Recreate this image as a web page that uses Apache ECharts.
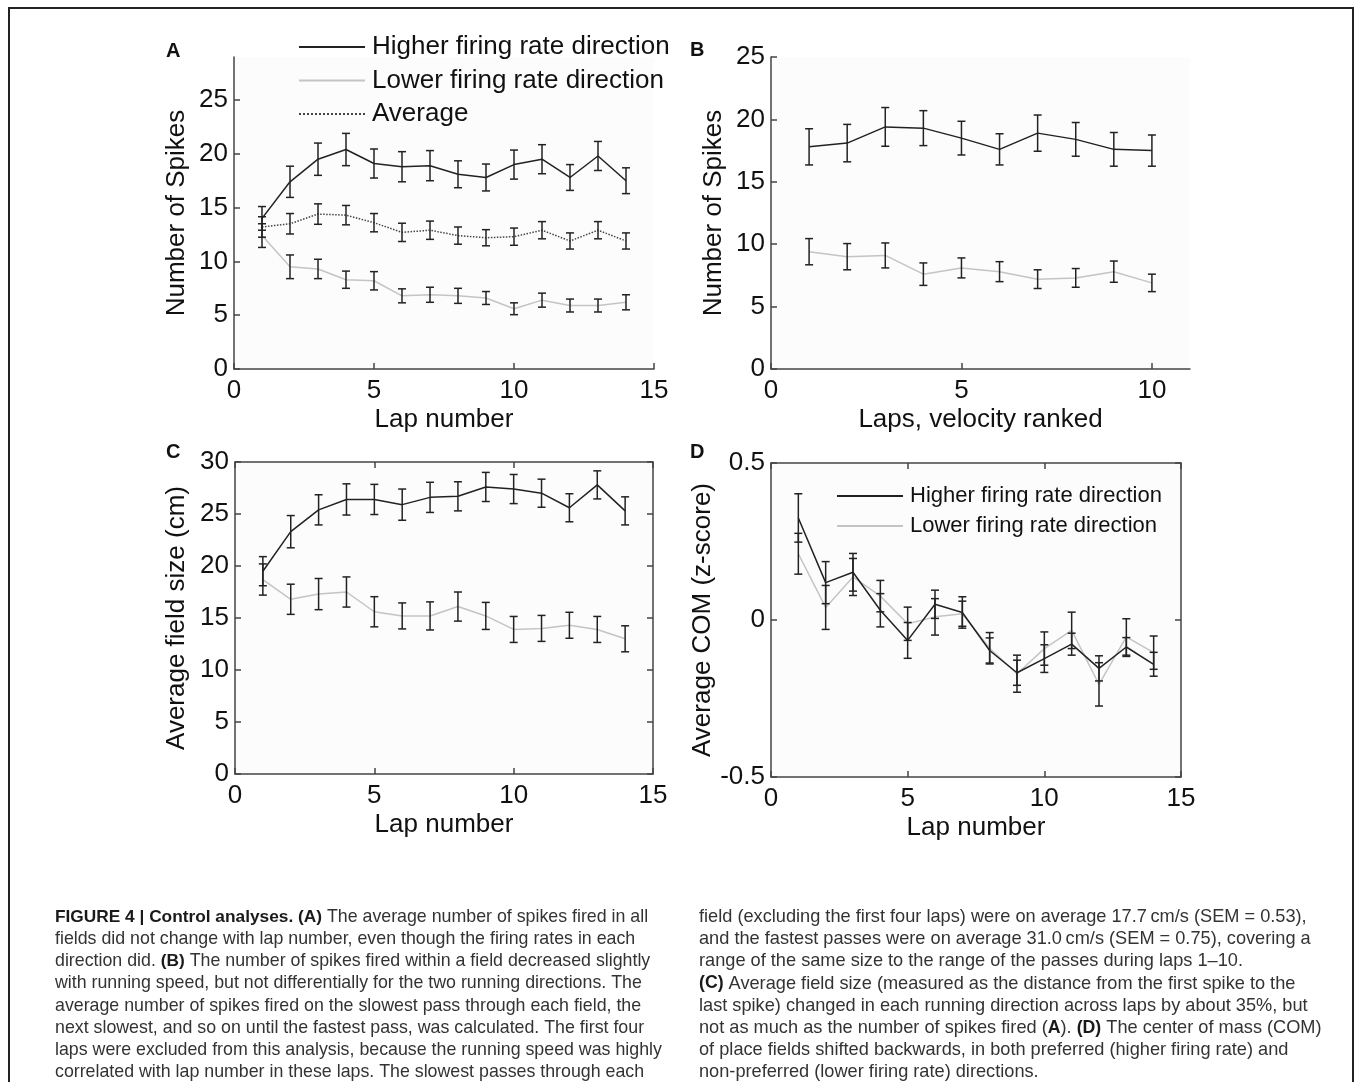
<!DOCTYPE html>
<html>
<head>
<meta charset="utf-8">
<title>Figure 4 - Control analyses</title>
<script src="https://cdn.jsdelivr.net/npm/echarts@6/dist/echarts.min.js"></script>
<style>
  html, body { margin: 0; padding: 0; background: #fff; }
  #main { width: 1356px; height: 1082px; }
</style>
</head>
<body>
<div id="main"></div>
<script>
// 圈数
const laps14 = [1, 2, 3, 4, 5, 6, 7, 8, 9, 10, 11, 12, 13, 14]
const laps10 = [1, 2, 3, 4, 5, 6, 7, 8, 9, 10]

// A: 每圈放电数
const spikesHigh = [14.0, 17.4, 19.5, 20.4, 19.1, 18.8, 18.9, 18.1, 17.8, 19.0, 19.5, 17.8, 19.8, 17.5]
const spikesHighErr = [1.1, 1.45, 1.5, 1.5, 1.35, 1.4, 1.4, 1.25, 1.25, 1.35, 1.35, 1.2, 1.35, 1.2]
const spikesLow = [12.4, 9.5, 9.3, 8.3, 8.2, 6.8, 6.9, 6.8, 6.6, 5.6, 6.4, 5.9, 5.9, 6.2]
const spikesLowErr = [1.1, 1.1, 0.9, 0.8, 0.85, 0.65, 0.7, 0.7, 0.6, 0.55, 0.65, 0.6, 0.6, 0.7]
const spikesAvg = [13.2, 13.5, 14.4, 14.3, 13.6, 12.7, 12.9, 12.4, 12.2, 12.3, 12.9, 11.9, 12.9, 11.9]
const spikesAvgErr = [0.95, 0.95, 0.95, 0.9, 0.85, 0.85, 0.85, 0.8, 0.75, 0.8, 0.8, 0.75, 0.8, 0.75]

// B: 按速度排序
const velHigh = [17.8, 18.1, 19.4, 19.3, 18.5, 17.6, 18.9, 18.4, 17.6, 17.5]
const velHighErr = [1.45, 1.5, 1.55, 1.4, 1.35, 1.25, 1.45, 1.35, 1.35, 1.25]
const velLow = [9.4, 9.0, 9.1, 7.6, 8.1, 7.8, 7.2, 7.3, 7.8, 6.9]
const velLowErr = [1.05, 1.05, 1.0, 0.9, 0.8, 0.8, 0.75, 0.75, 0.85, 0.7]

// C: 位置野大小
const sizeHigh = [19.5, 23.3, 25.4, 26.4, 26.4, 25.9, 26.6, 26.7, 27.6, 27.4, 27.0, 25.6, 27.8, 25.3]
const sizeHighErr = [1.4, 1.55, 1.45, 1.5, 1.45, 1.5, 1.45, 1.4, 1.4, 1.4, 1.35, 1.35, 1.35, 1.35]
const sizeLow = [18.7, 16.8, 17.3, 17.5, 15.6, 15.2, 15.2, 16.1, 15.2, 13.9, 14.0, 14.3, 13.9, 13.0]
const sizeLowErr = [1.5, 1.45, 1.5, 1.45, 1.45, 1.25, 1.35, 1.4, 1.3, 1.25, 1.25, 1.25, 1.25, 1.25]

// D: 质心
const comHigh = [0.325, 0.119, 0.152, 0.031, -0.065, 0.05, 0.024, -0.097, -0.168, -0.123, -0.077, -0.154, -0.086, -0.141]
const comHighErr = [0.077, 0.067, 0.06, 0.053, 0.057, 0.045, 0.05, 0.04, 0.04, 0.044, 0.035, 0.04, 0.03, 0.038]
const comLow = [0.211, 0.04, 0.137, 0.076, -0.012, 0.01, 0.02, -0.09, -0.171, -0.091, -0.033, -0.205, -0.054, -0.104]
const comLowErr = [0.065, 0.07, 0.059, 0.05, 0.053, 0.058, 0.04, 0.05, 0.059, 0.053, 0.058, 0.069, 0.058, 0.053]

const NAME_HIGH = 'Higher firing rate direction'
const NAME_LOW = 'Lower firing rate direction'
const NAME_AVG = 'Average'

// 图注文字
const captionLeft = [
  '{b|FIGURE 4 | Control analyses. (A)} The average number of spikes fired in all',
  'fields did not change with lap number, even though the firing rates in each',
  'direction did. {b|(B)} The number of spikes fired within a field decreased slightly',
  'with running speed, but not differentially for the two running directions. The',
  'average number of spikes fired on the slowest pass through each field, the',
  'next slowest, and so on until the fastest pass, was calculated. The first four',
  'laps were excluded from this analysis, because the running speed was highly',
  'correlated with lap number in these laps. The slowest passes through each'
]
const captionRight = [
  'field (excluding the first four laps) were on average 17.7\u2009cm/s (SEM = 0.53),',
  'and the fastest passes were on average 31.0\u2009cm/s (SEM = 0.75), covering a',
  'range of the same size to the range of the passes during laps 1\u201310.',
  '{b|(C)} Average field size (measured as the distance from the first spike to the',
  'last spike) changed in each running direction across laps by about 35%, but',
  'not as much as the number of spikes fired ({b|A}). {b|(D)} The center of mass (COM)',
  'of place fields shifted backwards, in both preferred (higher firing rate) and',
  'non-preferred (lower firing rate) directions.'
]

const FONT = '"Liberation Sans", Arial, Helvetica, sans-serif'
const AXIS_COLOR = '#444'
const TEXT_COLOR = '#111'

function pairs(xs, ys) {
  return xs.map((x, i) => [x, ys[i]])
}

function errRows(xs, ys, es) {
  return xs.map((x, i) => [x, ys[i] - es[i], ys[i] + es[i]])
}

// 误差线
function renderErrorBar(params, api) {
  const x = api.value(0)
  const top = api.coord([x, api.value(2)])
  const bot = api.coord([x, api.value(1)])
  const w = 4
  const style = { stroke: '#222', lineWidth: 1.5 }
  return {
    type: 'group',
    children: [
      { type: 'line', shape: { x1: top[0], y1: top[1], x2: bot[0], y2: bot[1] }, style },
      { type: 'line', shape: { x1: top[0] - w, y1: top[1], x2: top[0] + w, y2: top[1] }, style },
      { type: 'line', shape: { x1: bot[0] - w, y1: bot[1], x2: bot[0] + w, y2: bot[1] }, style }
    ]
  }
}

function lineSeries(name, idx, xs, ys, color, type) {
  return {
    name: name,
    type: 'line',
    xAxisIndex: idx,
    yAxisIndex: idx,
    symbol: 'none',
    silent: true,
    animation: false,
    lineStyle: { color: color, width: 1.5, type: type || 'solid' },
    itemStyle: { color: color },
    data: pairs(xs, ys)
  }
}

function errSeries(idx, xs, ys, es) {
  return {
    type: 'custom',
    xAxisIndex: idx,
    yAxisIndex: idx,
    silent: true,
    animation: false,
    z: 5,
    renderItem: renderErrorBar,
    encode: { x: 0, y: [1, 2] },
    data: errRows(xs, ys, es)
  }
}

function xAxisOf(grid, max, name, extra) {
  return Object.assign({
    type: 'value',
    gridIndex: grid,
    min: 0,
    max: max,
    interval: 5,
    name: name,
    nameLocation: 'middle',
    nameGap: 38,
    nameTextStyle: { fontSize: 26, color: TEXT_COLOR, fontFamily: FONT },
    axisLine: { show: true, onZero: false, lineStyle: { color: AXIS_COLOR, width: 1.5 } },
    axisTick: { show: true, inside: true, length: 6, lineStyle: { color: AXIS_COLOR, width: 1.5 } },
    axisLabel: { fontSize: 26, color: TEXT_COLOR, fontFamily: FONT, margin: 9 },
    splitLine: { show: false }
  }, extra || {})
}

function yAxisOf(grid, min, max, interval, name, nameGap, extra) {
  return Object.assign({
    type: 'value',
    gridIndex: grid,
    min: min,
    max: max,
    interval: interval,
    name: name,
    nameLocation: 'middle',
    nameGap: nameGap,
    nameTextStyle: { fontSize: 26, color: TEXT_COLOR, fontFamily: FONT },
    axisLine: { show: true, onZero: false, lineStyle: { color: AXIS_COLOR, width: 1.5 } },
    axisTick: { show: true, inside: true, length: 6, lineStyle: { color: AXIS_COLOR, width: 1.5 } },
    axisLabel: { fontSize: 26, color: TEXT_COLOR, fontFamily: FONT, margin: 6 },
    splitLine: { show: false }
  }, extra || {})
}

// 上边/右边的框线 (C, D)
function boxAxis(base) {
  return Object.assign({}, base, {
    name: '',
    axisLabel: { show: false }
  })
}

const gridStyle = { show: true, backgroundColor: '#fcfcfc', borderWidth: 0 }

const xAxes = [
  xAxisOf(0, 15, 'Lap number'),
  xAxisOf(1, 11, 'Laps, velocity ranked', {
    axisTick: { show: true, inside: true, length: 6, lineStyle: { color: AXIS_COLOR, width: 1.5 }, customValues: [0, 5, 10] },
    axisLabel: { fontSize: 26, color: TEXT_COLOR, fontFamily: FONT, margin: 9, customValues: [0, 5, 10] }
  }),
  xAxisOf(2, 15, 'Lap number'),
  xAxisOf(3, 15, 'Lap number')
]
xAxes.push(boxAxis(Object.assign({}, xAxes[2], { position: 'top' })))
xAxes.push(boxAxis(Object.assign({}, xAxes[3], { position: 'top' })))

const yAxes = [
  yAxisOf(0, 0, 29, 5, 'Number of Spikes', 44, {
    axisTick: { show: true, inside: true, length: 6, lineStyle: { color: AXIS_COLOR, width: 1.5 }, customValues: [0, 5, 10, 15, 20, 25] },
    axisLabel: { fontSize: 26, color: TEXT_COLOR, fontFamily: FONT, margin: 6, customValues: [0, 5, 10, 15, 20, 25] }
  }),
  yAxisOf(1, 0, 25, 5, 'Number of Spikes', 44),
  yAxisOf(2, 0, 30, 5, 'Average field size (cm)', 45),
  yAxisOf(3, -0.5, 0.5, 0.5, 'Average COM (z-score)', 54)
]
yAxes.push(boxAxis(Object.assign({}, yAxes[2], { position: 'right' })))
yAxes.push(boxAxis(Object.assign({}, yAxes[3], { position: 'right' })))

const series = [
  // A
  lineSeries(NAME_HIGH, 0, laps14, spikesHigh, '#222'),
  lineSeries(NAME_LOW, 0, laps14, spikesLow, '#c4c4c4'),
  lineSeries(NAME_AVG, 0, laps14, spikesAvg, '#444', 'dotted'),
  errSeries(0, laps14, spikesHigh, spikesHighErr),
  errSeries(0, laps14, spikesLow, spikesLowErr),
  errSeries(0, laps14, spikesAvg, spikesAvgErr),
  // B
  lineSeries(NAME_HIGH, 1, laps10, velHigh, '#222'),
  lineSeries(NAME_LOW, 1, laps10, velLow, '#c4c4c4'),
  errSeries(1, laps10, velHigh, velHighErr),
  errSeries(1, laps10, velLow, velLowErr),
  // C
  lineSeries(NAME_HIGH, 2, laps14, sizeHigh, '#222'),
  lineSeries(NAME_LOW, 2, laps14, sizeLow, '#c4c4c4'),
  errSeries(2, laps14, sizeHigh, sizeHighErr),
  errSeries(2, laps14, sizeLow, sizeLowErr),
  // D
  lineSeries(NAME_LOW, 3, laps14, comLow, '#c4c4c4'),
  lineSeries(NAME_HIGH, 3, laps14, comHigh, '#222'),
  errSeries(3, laps14, comLow, comLowErr),
  errSeries(3, laps14, comHigh, comHighErr)
]

function panelLabel(text, x, y) {
  return {
    type: 'text', x: x, y: y,
    style: { text: text, font: 'bold 20px ' + FONT, fill: '#111', textVerticalAlign: 'middle' }
  }
}

function captionText(lines, x, size) {
  return lines.map((t, i) => ({
    type: 'text',
    x: x,
    y: 917 + i * 22.2,
    style: {
      text: t,
      fontFamily: FONT,
      fontSize: size,
      fill: '#333',
      verticalAlign: 'middle',
      rich: {
        b: { fontFamily: FONT, fontSize: size - 0.5, fontWeight: 'bold', fill: '#1a1a1a' }
      }
    }
  }))
}

// 图例：去掉折线图例中的圆点
const legendBase = {
  orient: 'vertical',
  padding: 0,
  itemWidth: 66,
  itemHeight: 2,
  selectedMode: false,
  itemStyle: { opacity: 0 }
}

const option = {
  backgroundColor: '#fff',
  animation: false,
  grid: [
    Object.assign({ left: 234, top: 57, width: 420, height: 312 }, gridStyle),
    Object.assign({ left: 771, top: 57, width: 419, height: 312 }, gridStyle),
    Object.assign({ left: 235, top: 462, width: 418, height: 312 }, gridStyle),
    Object.assign({ left: 771, top: 463, width: 410, height: 314 }, gridStyle)
  ],
  legend: [
    Object.assign({}, legendBase, {
      left: 298,
      top: 34,
      itemGap: 7.5,
      data: [NAME_HIGH, NAME_LOW, NAME_AVG],
      textStyle: { fontSize: 26, color: TEXT_COLOR, fontFamily: FONT, padding: [0, 0, 0, 2] }
    }),
    Object.assign({}, legendBase, {
      left: 836,
      top: 485,
      itemGap: 8,
      data: [NAME_HIGH, NAME_LOW],
      textStyle: { fontSize: 22, color: TEXT_COLOR, fontFamily: FONT, padding: [0, 0, 0, 2] }
    })
  ],
  xAxis: xAxes,
  yAxis: yAxes,
  series: series,
  graphic: [
    {
      type: 'rect',
      shape: { x: 9, y: 8, width: 1344, height: 1100 },
      style: { fill: 'none', stroke: '#222', lineWidth: 2 }
    },
    panelLabel('A', 166, 51),
    panelLabel('B', 690, 50),
    panelLabel('C', 166, 452),
    panelLabel('D', 690, 452)
  ].concat(captionText(captionLeft, 55, 17.8), captionText(captionRight, 699, 18.2))
}

const chart = echarts.init(document.getElementById('main'), null, { renderer: 'canvas' })
chart.setOption(option)
</script>
</body>
</html>
